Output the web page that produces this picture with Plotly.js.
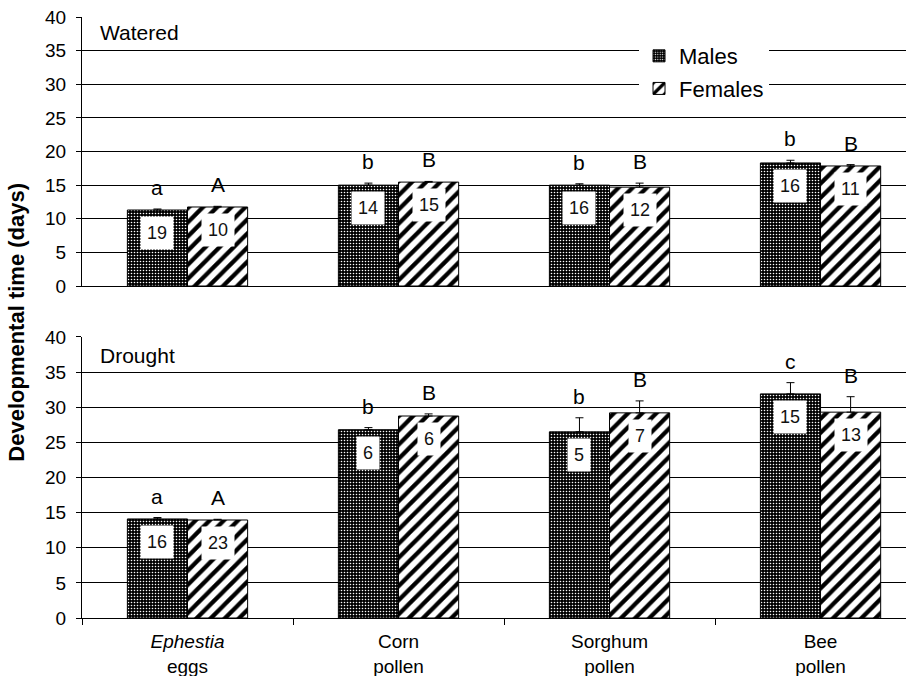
<!DOCTYPE html>
<html>
<head>
<meta charset="utf-8">
<script src="https://cdn.plot.ly/plotly-3.0.1.min.js"></script>
<style>html,body{margin:0;padding:0;background:#fff;}#chart{width:906px;height:676px;}</style>
</head>
<body>
<div id="chart"></div>
<script>
// ---- data ----
const categories = ["<i>Ephestia</i><br>eggs", "Corn<br>pollen", "Sorghum<br>pollen", "Bee<br>pollen"];
const seriesNames = ["Males", "Females"];

const wateredMales = [11.3, 15.0, 15.0, 18.3];
const wateredMalesErr = [0.15, 0.3, 0.2, 0.4];
const wateredFemales = [11.75, 15.45, 14.7, 17.85];
const wateredFemalesErr = [0.1, 0.1, 0.6, 0.2];
const wateredMalesLetters = ["a", "b", "b", "b"];
const wateredFemalesLetters = ["A", "B", "B", "B"];
const wateredMalesN = ["19", "14", "16", "16"];
const wateredFemalesN = ["10", "15", "12", "11"];

const droughtMales = [14.1, 26.8, 26.5, 31.9];
const droughtMalesErr = [0.2, 0.3, 2.0, 1.6];
const droughtFemales = [13.95, 28.75, 29.2, 29.3];
const droughtFemalesErr = [0.1, 0.3, 1.7, 2.2];
const droughtMalesLetters = ["a", "b", "b", "c"];
const droughtFemalesLetters = ["A", "B", "B", "B"];
const droughtMalesN = ["16", "6", "5", "15"];
const droughtFemalesN = ["23", "6", "7", "13"];

const yTicks = [0, 5, 10, 15, 20, 25, 30, 35, 40];

// ---- styles ----
const FONT = "Liberation Sans, Arial, sans-serif";
const BARGAP = 0.43;
const barW = (1 - BARGAP) / 2;
const off = barW / 2;

const malePattern = {shape: ".", bgcolor: "#000", fgcolor: "#fff", size: 3, solidity: 0.22, fillmode: "replace"};
const femalePattern = {shape: "/", bgcolor: "#fff", fgcolor: "#000", size: 10, solidity: 0.42, fillmode: "replace"};

function barTrace(name, y, err, pattern, xa, ya, showlegend) {
  return {
    type: "bar", name: name, x: categories, y: y,
    xaxis: xa, yaxis: ya, showlegend: showlegend, legendgroup: name,
    marker: {color: pattern.bgcolor, pattern: pattern, line: {color: "#000", width: 1}},
    error_y: {type: "data", symmetric: false, array: err, arrayminus: err.map(() => 0),
              color: "#000", thickness: 1, width: 4},
    hoverinfo: "skip"
  };
}

const data = [
  barTrace(seriesNames[0], wateredMales, wateredMalesErr, malePattern, "x", "y", true),
  barTrace(seriesNames[1], wateredFemales, wateredFemalesErr, femalePattern, "x", "y", true),
  barTrace(seriesNames[0], droughtMales, droughtMalesErr, malePattern, "x2", "y2", false),
  barTrace(seriesNames[1], droughtFemales, droughtFemalesErr, femalePattern, "x2", "y2", false)
];

const annotations = [];
function addLabels(vals, errs, letters, ns, dx, xref, yref) {
  vals.forEach((v, i) => {
    annotations.push({
      x: i + dx, y: v + errs[i], xref: xref, yref: yref, text: letters[i],
      showarrow: false, yanchor: "bottom", yshift: 8,
      font: {family: FONT, size: 21, color: "#000"}
    });
    annotations.push({
      x: i + dx, y: v, xref: xref, yref: yref, text: ns[i],
      showarrow: false, yanchor: "middle", yshift: -23,
      bgcolor: "#fff", borderpad: 6,
      font: {family: FONT, size: 18, color: "#111"}
    });
  });
}
addLabels(wateredMales, wateredMalesErr, wateredMalesLetters, wateredMalesN, -off, "x", "y");
addLabels(wateredFemales, wateredFemalesErr, wateredFemalesLetters, wateredFemalesN, off, "x", "y");
addLabels(droughtMales, droughtMalesErr, droughtMalesLetters, droughtMalesN, -off, "x2", "y2");
addLabels(droughtFemales, droughtFemalesErr, droughtFemalesLetters, droughtFemalesN, off, "x2", "y2");

annotations.push({xref: "paper", yref: "paper", x: 0.0194, y: 0.975, xanchor: "left", yanchor: "middle",
  text: "Watered", showarrow: false, font: {family: FONT, size: 21, color: "#000"}});
annotations.push({xref: "paper", yref: "paper", x: 0.0194, y: 0.4376, xanchor: "left", yanchor: "middle",
  text: "Drought", showarrow: false, font: {family: FONT, size: 21, color: "#000"}});
annotations.push({xref: "paper", yref: "paper", x: -0.0789, y: 0.493, xanchor: "center", yanchor: "middle",
  textangle: -90, text: "<b>Developmental time (days)</b>", showarrow: false,
  font: {family: FONT, size: 22, color: "#000"}});

const yCommon = {
  range: [0, 40], tickvals: yTicks, showgrid: true, gridcolor: "#000", gridwidth: 1,
  showline: true, linecolor: "#000", linewidth: 1, ticks: "outside", ticklen: 5, tickcolor: "#000",
  ticklabelstandoff: 6,
  tickfont: {family: FONT, size: 19, color: "#000"}, zeroline: false, fixedrange: true
};
const xCommon = {
  type: "category", range: [-0.5, 3.405], showline: true, linecolor: "#000", linewidth: 1,
  showgrid: false, zeroline: false, fixedrange: true, tickson: "boundaries"
};

const layout = {
  width: 906, height: 676,
  margin: {l: 82, r: 0, t: 17, b: 58},
  paper_bgcolor: "#fff", plot_bgcolor: "#fff",
  barmode: "group", bargap: BARGAP, bargroupgap: 0,
  font: {family: FONT, color: "#000"},
  xaxis: Object.assign({}, xCommon, {anchor: "y", showticklabels: false, ticks: ""}),
  xaxis2: Object.assign({}, xCommon, {anchor: "y2", ticks: "outside", ticklen: 6, tickcolor: "#000",
    ticklabelstandoff: 6,
    tickfont: {family: FONT, size: 19, color: "#000"}}),
  yaxis: Object.assign({}, yCommon, {domain: [0.5524, 1], anchor: "x"}),
  yaxis2: Object.assign({}, yCommon, {domain: [0, 0.4676], anchor: "x2"}),
  legend: {x: 0.676, y: 0.97, xanchor: "left", yanchor: "top", bgcolor: "#fff", borderwidth: 0,
    font: {family: FONT, size: 22, color: "#000"}, traceorder: "grouped", tracegroupgap: 1,
    itemwidth: 30},
  annotations: annotations,
  showlegend: true
};

Plotly.newPlot("chart", data, layout, {displayModeBar: false, staticPlot: true});
</script>
</body>
</html>
